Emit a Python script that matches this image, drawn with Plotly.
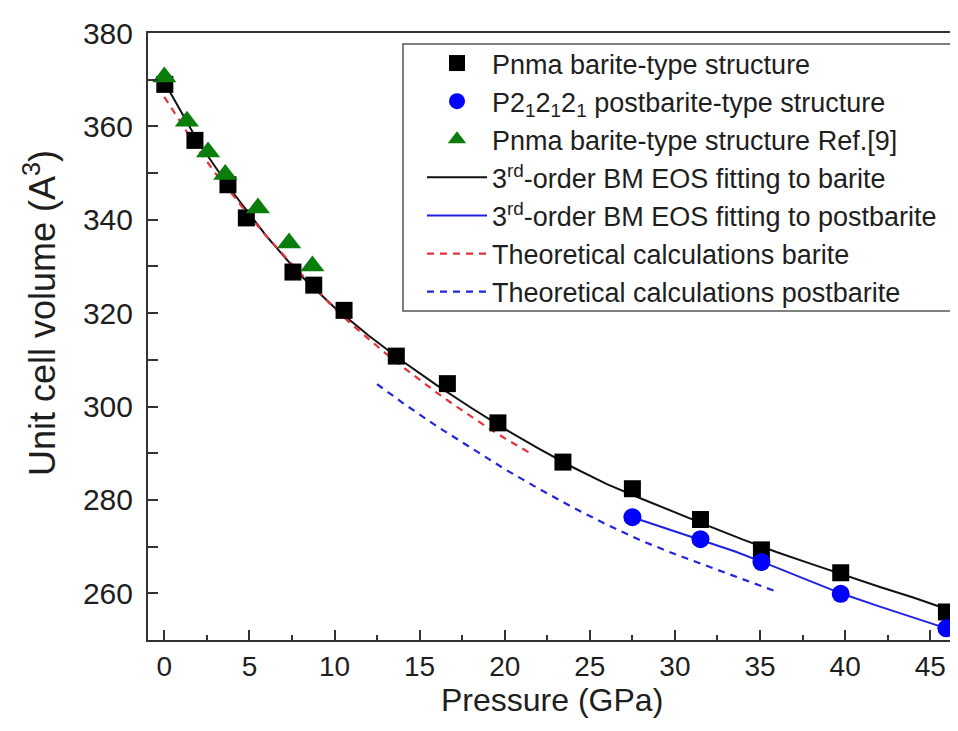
import plotly.graph_objects as go

# ---- data ----
barite_p = [0.03, 1.8, 3.74, 4.82, 7.56, 8.78, 10.56, 13.63, 16.63, 19.6, 23.42, 27.5, 31.5, 35.08, 39.74, 45.95]
barite_v = [369.0, 357.0, 347.5, 340.4, 328.8, 326.0, 320.6, 310.8, 304.9, 296.5, 288.1, 282.4, 275.8, 269.3, 264.4, 256.0]

post_p = [27.5, 31.5, 35.08, 39.74, 45.95]
post_v = [276.3, 271.6, 266.7, 259.9, 252.5]

ref_p = [0.0, 1.33, 2.57, 3.58, 5.5, 7.33, 8.7]
ref_v = [370.6, 361.1, 354.5, 349.7, 342.5, 335.0, 330.1]

fit_barite_p = [0, 2, 4, 6, 8, 10, 12, 14, 16, 18, 20, 22, 24, 26, 28, 30, 32, 34, 36, 38, 40, 42, 44, 46]
fit_barite_v = [369.5, 356.6, 346.0, 336.5, 328.1, 321.2, 315.2, 309.7, 304.6, 299.8, 295.2, 291.0, 287.0, 283.4, 280.3, 277.3, 274.4, 271.5, 268.8, 266.3, 263.8, 261.4, 259.1, 256.6]

fit_post_p = [27.5, 29.5, 31.5, 33.5, 35.08, 37.5, 39.74, 42, 44, 45.95]
fit_post_v = [276.3, 273.9, 271.5, 269.0, 266.8, 263.2, 260.0, 257.2, 254.8, 252.5]

theo_barite_p = [0, 1, 2, 3, 4, 5, 6, 7, 8, 9, 10, 11, 12, 13, 14, 15, 16, 17, 18, 19, 20, 21, 21.6]
theo_barite_v = [366.3, 360.5, 355.0, 350.0, 345.3, 340.8, 336.5, 332.4, 328.5, 324.8, 321.0, 317.6, 314.4, 311.4, 308.5, 305.7, 303.0, 300.4, 297.9, 295.5, 293.2, 291.0, 289.8]

theo_post_p = [12.5, 14, 16, 18, 20, 22, 24, 26, 28, 30, 32, 34, 36]
theo_post_v = [304.8, 300.8, 295.8, 291.2, 286.6, 282.4, 278.4, 274.7, 271.3, 268.4, 265.7, 263.0, 260.3]

x_ticks = [0, 5, 10, 15, 20, 25, 30, 35, 40, 45]
y_ticks = [260, 280, 300, 320, 340, 360, 380]

FONT = "Liberation Sans, Arial, sans-serif"
TXT = "#1e1e1e"
AX = "#333333"

fig = go.Figure()

# lines first (drawn under markers)
fig.add_trace(go.Scatter(x=fit_barite_p, y=fit_barite_v, mode="lines",
                         line=dict(color="#111111", width=2),
                         name="3<sup>rd</sup>-order BM EOS fitting to barite", legendrank=4))
fig.add_trace(go.Scatter(x=fit_post_p, y=fit_post_v, mode="lines",
                         line=dict(color="#2020e0", width=2),
                         name="3<sup>rd</sup>-order BM EOS fitting to postbarite", legendrank=5))
fig.add_trace(go.Scatter(x=theo_barite_p, y=theo_barite_v, mode="lines",
                         line=dict(color="#e8303a", width=2.2, dash="7px,6px"),
                         name="Theoretical calculations barite", legendrank=6))
fig.add_trace(go.Scatter(x=theo_post_p, y=theo_post_v, mode="lines",
                         line=dict(color="#2424dd", width=2.2, dash="7px,6px"),
                         name="Theoretical calculations postbarite", legendrank=7))

# markers
fig.add_trace(go.Scatter(x=barite_p, y=barite_v, mode="markers",
                         marker=dict(symbol="square", size=17, color="#000000"),
                         name="Pnma barite-type structure", legendrank=1))
fig.add_trace(go.Scatter(x=post_p, y=post_v, mode="markers",
                         marker=dict(symbol="circle", size=18, color="#0000ff"),
                         name="P2<sub>1</sub>2<sub>1</sub>2<sub>1</sub> postbarite-type structure", legendrank=2))
fig.add_trace(go.Scatter(x=ref_p, y=ref_v, mode="markers",
                         marker=dict(symbol="triangle-up", size=21, color="#0a7d0a"),
                         name="Pnma barite-type structure Ref.[9]", legendrank=3))

# plot area: x 140..958, y 25..632 (818 x 607 px)
L, T, W, H = 140, 25, 818, 607
def px(xp):
    return (xp - L) / W
def py(yp):
    return 1 - (yp - T) / H

fig.update_layout(
    width=958, height=731,
    margin=dict(l=L, r=0, t=T, b=731 - T - H),
    paper_bgcolor="white", plot_bgcolor="white",
    font=dict(family=FONT, color=TXT, size=27),
    showlegend=True,
    legend=dict(x=px(414), y=py(31), xanchor="left", yanchor="top",
                bgcolor="rgba(0,0,0,0)", borderwidth=0,
                font=dict(family=FONT, size=27, color=TXT),
                itemwidth=60, tracegroupgap=0),
    shapes=[dict(type="rect", xref="paper", yref="paper",
                 x0=px(395), x1=px(953), y0=py(303), y1=py(36),
                 line=dict(color="#555555", width=1.5), fillcolor="white", layer="below")],
    annotations=[
        dict(text="Unit cell volume (A<sup>3</sup>)", xref="paper", yref="paper",
             x=px(32), y=py(305), textangle=-90, showarrow=False,
             xanchor="center", yanchor="middle",
             font=dict(size=36, family=FONT, color=TXT)),
        dict(text="Pressure (GPa)", xref="paper", yref="paper",
             x=px(544), y=py(692), showarrow=False,
             xanchor="center", yanchor="middle",
             font=dict(size=32, family=FONT, color=TXT)),
    ],
)

fig.update_xaxes(
    range=[-0.958, 47.1], tickmode="array", tickvals=x_ticks, ticktext=[str(v) for v in x_ticks],
    showgrid=False, zeroline=False, automargin=False,
    showline=True, linecolor=AX, linewidth=2, mirror=True,
    ticks="inside", ticklen=10, tickwidth=2, tickcolor=AX,
    minor=dict(dtick=2.5, tick0=0, ticks="inside", ticklen=5, tickwidth=2, tickcolor=AX, showgrid=False),
    tickfont=dict(size=28, family=FONT, color=TXT), ticklabelstandoff=0,
)
fig.update_yaxes(
    range=[250, 380], tickmode="array", tickvals=y_ticks, ticktext=[str(v) for v in y_ticks],
    showgrid=False, zeroline=False, automargin=False,
    showline=True, linecolor=AX, linewidth=2, mirror=False,
    ticks="inside", ticklen=10, tickwidth=2, tickcolor=AX,
    minor=dict(dtick=10, tick0=0, ticks="inside", ticklen=10, tickwidth=2, tickcolor=AX, showgrid=False),
    tickfont=dict(size=30, family=FONT, color=TXT), ticklabelstandoff=7,
)

fig.write_html("out.html")
